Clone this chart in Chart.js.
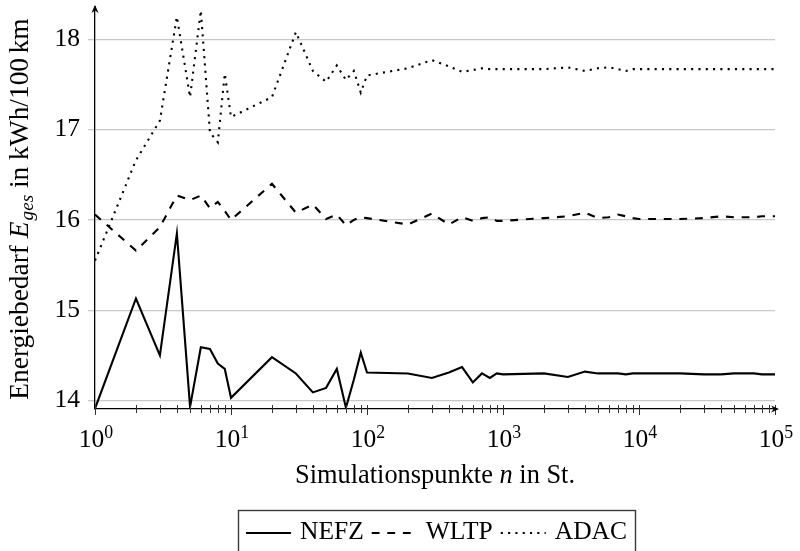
<!DOCTYPE html>
<html><head><meta charset="utf-8">
<script src="https://cdn.jsdelivr.net/npm/chart.js@4.4.1/dist/chart.umd.min.js"></script>
<style>html,body{margin:0;padding:0;background:#fff;}#wrap{width:800px;height:551px;}</style>
</head><body><div id="wrap"><canvas id="c" width="800" height="551"></canvas></div>
<script>
// ---- data ----
const simPoints = [1,2,3,4,5,6,7,8,9,10,20,30,40,50,60,70,80,90,100,200,300,400,500,600,700,800,900,1000,2000,3000,4000,5000,6000,7000,8000,9000,10000,20000,30000,40000,50000,60000,70000,80000,90000,100000];
const nefz = [13.91,15.13,14.50,15.85,13.93,14.59,14.57,14.41,14.35,14.03,14.48,14.30,14.09,14.14,14.35,13.92,14.23,14.53,14.31,14.30,14.25,14.31,14.37,14.20,14.30,14.25,14.30,14.29,14.30,14.26,14.32,14.30,14.30,14.30,14.29,14.30,14.30,14.30,14.29,14.29,14.30,14.30,14.30,14.29,14.29,14.29];
const wltp = [16.06,15.66,15.92,16.27,16.22,16.27,16.13,16.20,16.10,16.00,16.40,16.08,16.17,16.01,16.06,15.94,16.00,16.03,16.02,15.95,16.07,15.95,16.03,15.99,16.02,16.03,15.99,15.99,16.02,16.04,16.08,16.02,16.03,16.06,16.04,16.02,16.01,16.01,16.02,16.04,16.03,16.03,16.03,16.04,16.04,16.04];
const adac = [15.55,16.66,17.10,18.25,17.36,18.32,16.97,16.86,17.62,17.14,17.36,18.08,17.65,17.53,17.71,17.55,17.65,17.41,17.60,17.68,17.77,17.70,17.64,17.66,17.68,17.67,17.67,17.67,17.67,17.69,17.65,17.68,17.69,17.67,17.65,17.67,17.67,17.67,17.67,17.67,17.67,17.67,17.67,17.67,17.67,17.67];
const seriesNames = ['NEFZ','WLTP','ADAC'];
const yTickValues = [14,15,16,17,18];
const xMajorTicks = [1,10,100,1000,10000,100000];
const xMajorExponents = ['0','1','2','3','4','5'];
const xMinorFactors = [2,3,4,5,6,7,8,9];
const yRange = [13.906, 18.336];
const xRange = [1, 100000];

const SERIF = '"Liberation Serif", "Times New Roman", serif';
const styles = [
  {dash: []},
  {dash: [7.8, 7.8]},
  {dash: [2.1, 5.2]}
];
const LW = 2.1;

function font(size, italic){ return (italic ? 'italic ' : '') + size + 'px ' + SERIF; }
function richWidth(ctx, segs){
  let w = 0;
  segs.forEach(s => { ctx.font = font(s.size, s.italic); w += ctx.measureText(s.t).width + (s.gap || 0); });
  return w;
}
function drawRich(ctx, segs, cx, y){
  let x = cx - richWidth(ctx, segs) / 2;
  segs.forEach(s => {
    ctx.font = font(s.size, s.italic);
    ctx.fillText(s.t, x, y + (s.dy || 0));
    x += ctx.measureText(s.t).width + (s.gap || 0);
  });
}
function stealth(ctx, tx, ty, dx, dy){
  const L = 8, W = 3.6, notch = 2.6, px = -dy, py = dx;
  ctx.beginPath();
  ctx.moveTo(tx, ty);
  ctx.lineTo(tx - dx*L + px*W, ty - dy*L + py*W);
  ctx.lineTo(tx - dx*(L-notch), ty - dy*(L-notch));
  ctx.lineTo(tx - dx*L - px*W, ty - dy*L - py*W);
  ctx.closePath();
  ctx.fill();
}

const deco = {
  id: 'deco',
  afterDraw(chart){
    const ctx = chart.ctx, xs = chart.scales.x, a = chart.chartArea;
    ctx.save();
    ctx.fillStyle = '#000';
    ctx.textBaseline = 'alphabetic';
    ctx.textAlign = 'left';
    // x tick marks
    ctx.strokeStyle = '#333'; ctx.lineWidth = 1;
    const yb = a.bottom;
    xMajorTicks.forEach((m, i) => {
      const x = Math.round(xs.getPixelForValue(m)) + 0.5;
      ctx.beginPath(); ctx.moveTo(x, yb - 4); ctx.lineTo(x, yb + 6); ctx.stroke();
      if (i < xMajorTicks.length - 1) {
        xMinorFactors.forEach(f => {
          const xm = Math.round(xs.getPixelForValue(m * f)) + 0.5;
          ctx.beginPath(); ctx.moveTo(xm, yb - 4); ctx.lineTo(xm, yb + 4); ctx.stroke();
        });
      }
    });
    // arrows
    ctx.fillStyle = '#000';
    stealth(ctx, a.right + 4, yb, 1, 0);
    ctx.strokeStyle = '#000'; ctx.lineWidth = 1.3;
    ctx.beginPath(); ctx.moveTo(a.left, a.top); ctx.lineTo(a.left, a.top - 3); ctx.stroke();
    stealth(ctx, a.left, a.top - 4, 0, -1);
    // x tick labels 10^k
    xMajorTicks.forEach((m, i) => {
      const x = xs.getPixelForValue(m);
      const segs = [{t:'10', size:25.5}, {t:xMajorExponents[i], size:17.8, dy:-9}];
      drawRich(ctx, segs, x + 1, 447);
    });
    // x title
    drawRich(ctx, [
      {t:'Simulationspunkte ', size:26.4},
      {t:'n', size:26.4, italic:true},
      {t:' in St.', size:26.4}
    ], (a.left + a.right) / 2, 483);
    // y title
    ctx.save();
    ctx.translate(28, (a.top + a.bottom) / 2);
    ctx.rotate(-Math.PI / 2);
    drawRich(ctx, [
      {t:'Energiebedarf ', size:27.4},
      {t:'E', size:27.4, italic:true, gap:1},
      {t:'ges', size:19.2, italic:true, dy:5},
      {t:' in kWh/100', size:27.4, gap:4.6},
      {t:'km', size:27.4}
    ], 0, 0);
    ctx.restore();
    // legend
    const lf = 25.5, lineLen = 45, gapLT = 9, gapTL = 8;
    ctx.font = font(lf);
    const tw = seriesNames.map(s => ctx.measureText(s).width);
    const total = 3*lineLen + 3*gapLT + 2*gapTL + tw.reduce((p,c)=>p+c,0);
    const cx = (a.left + a.right) / 2 + 1.5;
    let x = cx - total / 2;
    const boxL = x - 8, boxR = x + total + 8;
    ctx.strokeStyle = '#3a3a3a'; ctx.lineWidth = 1.4;
    ctx.strokeRect(Math.round(boxL) + 0.5, 510.5, Math.round(boxR - boxL), 48);
    const ly = 533;
    seriesNames.forEach((name, i) => {
      ctx.strokeStyle = '#000'; ctx.lineWidth = LW; ctx.lineCap = 'butt';
      ctx.setLineDash(styles[i].dash);
      ctx.beginPath(); ctx.moveTo(x, ly); ctx.lineTo(x + lineLen, ly); ctx.stroke();
      ctx.setLineDash([]);
      x += lineLen + gapLT;
      ctx.font = font(lf);
      ctx.fillStyle = '#000';
      ctx.fillText(name, x, 538.5);
      x += tw[i] + gapTL;
    });
    ctx.restore();
  }
};

const seriesData = [nefz, wltp, adac];
const datasets = seriesNames.map((name, i) => ({
  label: name,
  data: simPoints.map((n, k) => ({x: n, y: seriesData[i][k]})),
  borderColor: '#000',
  backgroundColor: '#000',
  borderWidth: LW,
  borderDash: styles[i].dash,
  borderCapStyle: 'butt',
  borderJoinStyle: 'miter',
  pointRadius: 0,
  tension: 0,
  fill: false
}));

new Chart(document.getElementById('c'), {
  type: 'line',
  data: {datasets},
  options: {
    responsive: false,
    animation: false,
    devicePixelRatio: 1,
    layout: {padding: {top: 9, right: 25, left: 0, bottom: 0}},
    plugins: {legend: {display: false}, title: {display: false}, tooltip: {enabled: false}},
    scales: {
      x: {
        type: 'logarithmic', min: xRange[0], max: xRange[1],
        afterBuildTicks: s => { s.ticks = xMajorTicks.map(v => ({value: v})); },
        ticks: {display: false},
        grid: {display: false},
        border: {display: true, color: '#000', width: 1.3},
        afterFit: s => { s.height = 142; s.paddingLeft = 0; s.paddingRight = 0; }
      },
      y: {
        type: 'linear', min: yRange[0], max: yRange[1],
        afterBuildTicks: s => { s.ticks = yTickValues.map(v => ({value: v})); },
        ticks: {font: {family: SERIF, size: 25.5}, color: '#000', padding: 8},
        grid: {color: '#c8c8c8', lineWidth: 1.3, tickLength: 7, drawTicks: true},
        border: {display: true, color: '#000', width: 1.3},
        afterFit: s => { s.width = 95; s.paddingTop = 0; s.paddingBottom = 0; }
      }
    }
  },
  plugins: [deco]
});
</script>
</body></html>
